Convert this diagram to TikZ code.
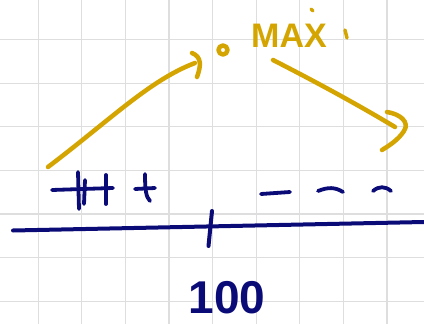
\documentclass[tikz,border=0pt]{standalone}
\usepackage{fontspec}
\setmainfont{Liberation Sans}
\definecolor{gold}{HTML}{D4A500}
\definecolor{navy}{HTML}{0B0B78}
\definecolor{gridc}{HTML}{DEDEDE}
\begin{document}
\begin{tikzpicture}[x=1pt,y=-1pt,line cap=round,line join=round,
  gridline/.style={gridc,line width=1.2pt},
  goldpen/.style={gold,line width=4.5pt},
  navypen/.style={navy,line width=4pt},
  navythin/.style={navy,line width=3.8pt}]
\fill[white] (0,0) rectangle (424,324);
\useasboundingbox (0,0) rectangle (424,324);
% grid
\foreach \i in {0,...,8} \draw[gridline] ({38.2+43.6*\i},0) -- ({38.2+43.6*\i},324);
\foreach \j in {0,...,6} \draw[gridline] (0,{39.5+43.6*\j}) -- (424,{39.5+43.6*\j});
% number line
\coordinate (L) at (13,230.5);
\coordinate (R) at (424,222);
\coordinate (tickTop) at (212,211);
\coordinate (tickBot) at (208.5,246);
\draw[navypen] (L) -- (R);
\draw[navypen] (tickTop) -- (tickBot);
\node[navy,font=\bfseries\fontsize{46}{46}\selectfont] (hundred) at (227,298) {100};
% plus signs
\coordinate (p1) at (52,190); \coordinate (p2) at (113,188);
\draw[navythin] (p1) -- (p2);
\draw[navythin] (78,172) -- (79,209);
\draw[navythin] (85,180) -- (84,204);
\draw[navythin] (106,175) -- (106,204);
\draw[navythin] (135,189) -- (155,188);
\draw[navythin] (145,174) .. controls (145,190) and (146,197) .. (150,201);
% minus signs
\draw[navythin] (261,194) -- (290,192);
\draw[navythin] (318,191) .. controls (328,187) and (335,187) .. (343,192);
\draw[navythin] (373,191) .. controls (379,186) and (385,186) .. (391,191);
% maximum
\coordinate (dot) at (223,50);
\draw[gold,line width=4.5pt] (dot) circle[radius=4.5];
\node[gold,font=\bfseries\fontsize{34}{34}\selectfont] (max) at (289,36) {MAX};
\draw[gold,line width=3.5pt] (311,9) -- (313,11);
\draw[gold,line width=3.5pt] (345,30) -- (347,38);
% increasing arrow
\coordinate (a1) at (48,167);
\coordinate (a2) at (195,63);
\draw[goldpen] (a1) .. controls (110,120) and (150,80) .. (a2);
\draw[goldpen] (192,53) .. controls (202,57) and (201,66) .. (197,77);
% decreasing arrow
\coordinate (b1) at (273,60);
\coordinate (b2) at (395,127);
\draw[goldpen] (b1) .. controls (320,84) and (360,106) .. (b2);
\draw[goldpen] (387,112) .. controls (400,114) and (410,122) .. (404,131) .. controls (398,140) and (390,145) .. (382,150);
\end{tikzpicture}
\end{document}
